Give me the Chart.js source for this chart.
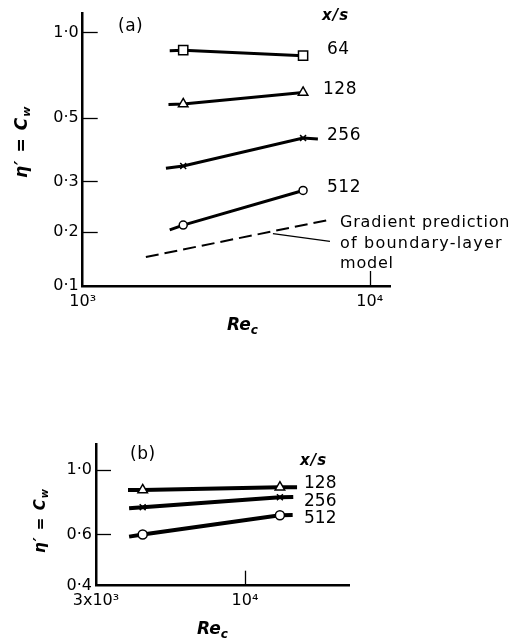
<!DOCTYPE html>
<html><head><meta charset="utf-8">
<script src="https://cdn.jsdelivr.net/npm/chart.js@4.4.0/dist/chart.umd.min.js"></script>
<style>
html,body{margin:0;padding:0;background:#fff;width:519px;height:640px;overflow:hidden;}
#ca{position:absolute;left:0;top:0;}
#cb{position:absolute;left:0;top:400px;}
</style></head><body>
<canvas id="ca" width="519" height="345"></canvas>
<canvas id="cb" width="519" height="240"></canvas>
<script>
// ---------- Panel (a) data ----------
const seriesNamesA = ['64', '128', '256', '512'];
const reA_64 = [2010, 2240, 5860];
const etaA_64 = [0.863, 0.866, 0.829];
const reA_128 = [1990, 2240, 5860];
const etaA_128 = [0.559, 0.561, 0.616];
const reA_256 = [1950, 2240, 5860, 6600];
const etaA_256 = [0.334, 0.340, 0.426, 0.423];
const reA_512 = [2010, 2240, 5860];
const etaA_512 = [0.203, 0.211, 0.279];
const reGradient = [1660, 7210];
const etaGradient = [0.163, 0.220];
const reLeader = [4600, 7270];
const etaLeader = [0.197, 0.185];
const xTicksA = [1000, 10000];
const xTickLabelsA = ['10³', '10⁴'];
const yTicksA = [0.129, 0.2, 0.3, 0.5, 1.0];
const yTickLabelsA = ['0·1', '0·2', '0·3', '0·5', '1·0'];
const xRangeA = [1000, 11770];
const yRangeA = [0.129, 1.164];

// ---------- Panel (b) data ----------
const seriesNamesB = ['128', '256', '512'];
const reB_128 = [3885, 4375, 13260, 15230];
const etaB_128 = [0.853, 0.854, 0.872, 0.872];
const reB_256 = [3920, 4375, 13260, 14770];
const etaB_256 = [0.739, 0.745, 0.806, 0.808];
const reB_512 = [3920, 4375, 13260, 14700];
const etaB_512 = [0.590, 0.600, 0.699, 0.700];
const xTicksB = [3000, 10000];
const xTickLabelsB = ['3x10³', '10⁴'];
const yTicksB = [0.4, 0.6, 1.0];
const yTickLabelsB = ['0·4', '0·6', '1·0'];
const xRangeB = [3000, 23230];
const yRangeB = [0.4, 1.228];

// ---------- helpers ----------
const FAM = '"DejaVu Sans", sans-serif';
function pts(xs, ys) { return xs.map((x, i) => ({x: x, y: ys[i]})); }
function radii(n, r) { return Array.from({length: n}, (_, i) => (i === 0 || i === 3) ? 0 : r); }
function lineDs(xs, ys, style, r, w) {
  return {
    data: pts(xs, ys), borderColor: '#000', borderWidth: w, tension: 0, fill: false,
    pointStyle: style, pointRadius: radii(xs.length, r), pointHoverRadius: radii(xs.length, r),
    pointBackgroundColor: '#fff', pointBorderColor: '#000', pointBorderWidth: 1.5
  };
}
function axis(range, ticks, labels, isX, size) {
  return {
    type: 'logarithmic', min: range[0], max: range[1],
    grid: {display: false, drawTicks: false},
    border: {display: true, color: '#000', width: 2.5},
    afterBuildTicks: s => { s.ticks = ticks.map(v => ({value: v})); },
    afterFit: s => { if (isX) s.height = 30; else s.width = 40; },
    ticks: {autoSkip: false, maxRotation: 0, minRotation: 0, color: '#000',
      font: {family: FAM, size: size}, padding: isX ? 6 : 4,
      callback: (v, i) => labels[i]}
  };
}
function txt(ctx, s, x, y, font, spacing) {
  ctx.save();
  ctx.font = font; ctx.fillStyle = '#000'; ctx.textAlign = 'left'; ctx.textBaseline = 'middle';
  if ('letterSpacing' in ctx) ctx.letterSpacing = (spacing || 0) + 'px';
  ctx.fillText(s, x, y);
  ctx.restore();
}
function txtBase(ctx, s, x, y, font, spacing) {
  ctx.save();
  ctx.font = font; ctx.fillStyle = '#000'; ctx.textAlign = 'left'; ctx.textBaseline = 'alphabetic';
  if ('letterSpacing' in ctx) ctx.letterSpacing = (spacing || 0) + 'px';
  ctx.fillText(s, x, y);
  ctx.restore();
}
function drawRe(ctx, x, y, size) {
  ctx.save();
  ctx.fillStyle = '#000'; ctx.textBaseline = 'alphabetic'; ctx.textAlign = 'left';
  ctx.font = 'italic bold ' + size + 'px ' + FAM;
  ctx.fillText('Re', x, y);
  const w = ctx.measureText('Re').width;
  ctx.font = 'italic bold ' + Math.round(size * 0.7) + 'px ' + FAM;
  ctx.fillText('c', x + w, y + size * 0.22);
  ctx.restore();
}
function drawEta(ctx, x, y, size) {
  ctx.save();
  ctx.translate(x, y); ctx.rotate(-Math.PI / 2);
  ctx.fillStyle = '#000'; ctx.textBaseline = 'alphabetic'; ctx.textAlign = 'left';
  if ('letterSpacing' in ctx) ctx.letterSpacing = '1px';
  ctx.font = 'italic bold ' + size + 'px ' + FAM;
  const main = 'η′ = C';
  ctx.fillText(main, 0, 0);
  const w = ctx.measureText(main).width;
  ctx.font = 'italic bold ' + Math.round(size * 0.65) + 'px ' + FAM;
  ctx.fillText('w', w, size * 0.2);
  ctx.restore();
}
function inwardTicks(chart, xVals, yVals, len) {
  const ctx = chart.ctx, xs = chart.scales.x, ys = chart.scales.y, a = chart.chartArea;
  ctx.save();
  ctx.strokeStyle = '#000'; ctx.lineWidth = 1.3;
  yVals.forEach(v => {
    if (v <= ys.min) return;
    const py = Math.round(ys.getPixelForValue(v)) + 0.5;
    ctx.beginPath(); ctx.moveTo(a.left, py); ctx.lineTo(a.left + len, py); ctx.stroke();
  });
  xVals.forEach(v => {
    if (v <= xs.min) return;
    const px = Math.round(xs.getPixelForValue(v)) + 0.5;
    ctx.beginPath(); ctx.moveTo(px, a.bottom); ctx.lineTo(px, a.bottom - len); ctx.stroke();
  });
  ctx.restore();
}

// ---------- Chart (a) ----------
const annotA = {
  id: 'annotA',
  afterDraw(chart) {
    const ctx = chart.ctx;
    inwardTicks(chart, xTicksA, yTicksA, 15);
    txt(ctx, '(a)', 118, 27, '17px ' + FAM, 0.5);
    txt(ctx, 'x/s', 322, 16, 'italic bold 15px ' + FAM, 1);
    const ly = [50, 90, 136, 188], lx = [327, 323, 327, 327];
    seriesNamesA.forEach((s, i) => txt(ctx, s, lx[i], ly[i], '17px ' + FAM, 0.5));
    txtBase(ctx, 'Gradient prediction', 340, 227, '16px ' + FAM, 0.8);
    txtBase(ctx, 'of boundary-layer', 340, 247.5, '16px ' + FAM, 1.2);
    txtBase(ctx, 'model', 340, 268, '16px ' + FAM, 0.8);
    drawRe(ctx, 227, 330, 17);
    drawEta(ctx, 27, 178, 17);
  }
};
new Chart(document.getElementById('ca'), {
  type: 'line',
  data: {datasets: [
    lineDs(reA_64, etaA_64, 'rect', 6.5, 3),
    lineDs(reA_128, etaA_128, 'triangle', 5.5, 3),
    lineDs(reA_256, etaA_256, 'crossRot', 4.2, 3),
    lineDs(reA_512, etaA_512, 'circle', 4, 3),
    {data: pts(reGradient, etaGradient), borderColor: '#000', borderWidth: 2, borderDash: [13, 6], pointRadius: 0, fill: false},
    {data: pts(reLeader, etaLeader), borderColor: '#000', borderWidth: 1.2, pointRadius: 0, fill: false}
  ]},
  options: {
    responsive: false, animation: false, devicePixelRatio: 1,
    layout: {padding: {left: 42.7, right: 129, top: 10, bottom: 29}},
    plugins: {legend: {display: false}, tooltip: {enabled: false}, title: {display: false}},
    scales: {
      x: axis(xRangeA, xTicksA, xTickLabelsA, true, 16),
      y: axis(yRangeA, yTicksA, yTickLabelsA, false, 16)
    }
  },
  plugins: [annotA]
});

// ---------- Chart (b) ----------
const OFF = 400;
const annotB = {
  id: 'annotB',
  afterDraw(chart) {
    const ctx = chart.ctx;
    inwardTicks(chart, xTicksB, yTicksB, 15);
    txt(ctx, '(b)', 130, 455 - OFF, '17px ' + FAM, 0.5);
    txt(ctx, 'x/s', 300, 461 - OFF, 'italic bold 15px ' + FAM, 1);
    const ly = [484, 502, 519];
    seriesNamesB.forEach((s, i) => txt(ctx, s, 304, ly[i] - OFF, '17px ' + FAM, 0));
    drawRe(ctx, 197, 634 - OFF, 17);
    drawEta(ctx, 45, 553 - OFF, 15);
  }
};
new Chart(document.getElementById('cb'), {
  type: 'line',
  data: {datasets: [
    lineDs(reB_128, etaB_128, 'triangle', 5.5, 4),
    lineDs(reB_256, etaB_256, 'crossRot', 4.2, 4),
    lineDs(reB_512, etaB_512, 'circle', 4.5, 4)
  ]},
  options: {
    responsive: false, animation: false, devicePixelRatio: 1,
    layout: {padding: {left: 56, right: 169.7, top: 44, bottom: 24.3}},
    plugins: {legend: {display: false}, tooltip: {enabled: false}, title: {display: false}},
    scales: {
      x: axis(xRangeB, xTicksB, xTickLabelsB, true, 16),
      y: axis(yRangeB, yTicksB, yTickLabelsB, false, 16)
    }
  },
  plugins: [annotB]
});
</script>
</body></html>
